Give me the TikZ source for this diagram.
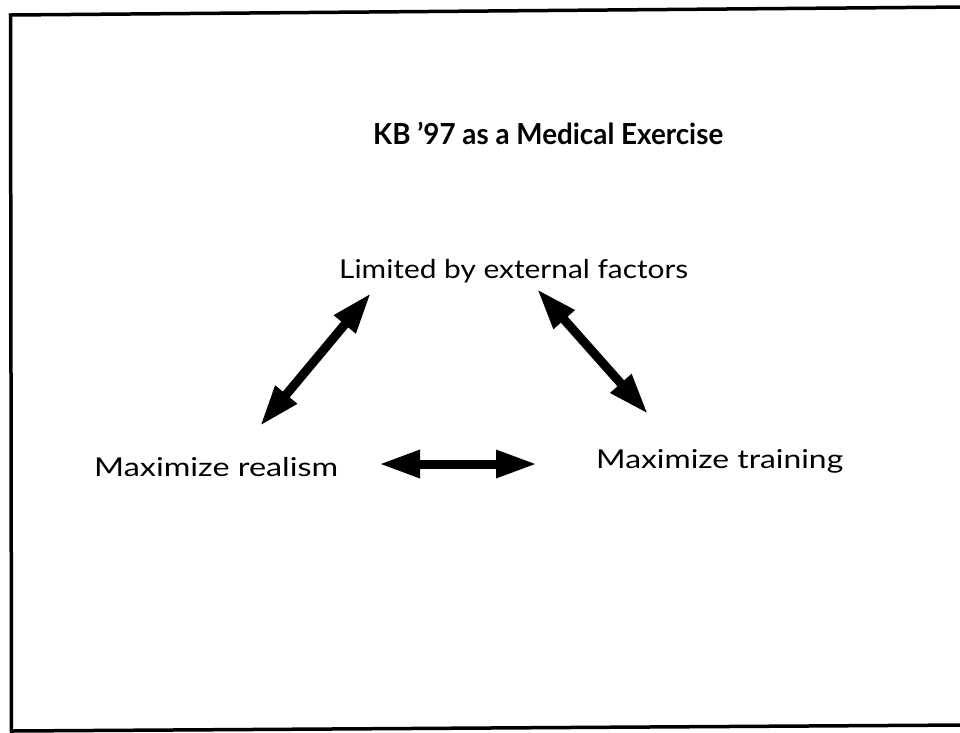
\documentclass[tikz,border=0pt]{standalone}
\usepackage{fontspec}
\setmainfont{Lato}
\usetikzlibrary{arrows.meta}
\tikzset{
  lbl/.style={inner sep=0pt, anchor=base west, font=\fontsize{26}{30}\selectfont},
  ttl/.style={inner sep=0pt, anchor=base west, font=\fontsize{29}{34}\selectfont\bfseries},
  dbl/.style={line width=9pt, {Triangle[length=41pt,width=26pt]}-{Triangle[length=41pt,width=26pt]}},
  frame/.style={line width=3.5pt, line cap=square, line join=miter}
}
\begin{document}
\begin{tikzpicture}[x=1pt,y=-1pt]
\useasboundingbox (0,0) rectangle (960,732);
% frame (slightly tilted, as scanned)
\coordinate (ftl) at (10.5,15);
\coordinate (ftr) at (965,7);
\coordinate (fbl) at (11.5,731);
\coordinate (fbr) at (965,725);
\draw[frame] (ftr) -- (ftl) -- (fbl) -- (fbr);
% texts
\node[ttl] (title) at (373,144) {\resizebox{350pt}{\height}{KB ’97 as a Medical Exercise}};
\node[lbl] (lim) at (339,278) {\resizebox{349pt}{\height}{Limited by external factors}};
\node[lbl] (real) at (94,476) {\resizebox{244pt}{\height}{Maximize realism}};
\node[lbl] (train) at (596,468) {\resizebox{247pt}{\height}{Maximize training}};
% arrows
\coordinate (a1) at (260,426); \coordinate (a2) at (371,293);
\coordinate (b1) at (537,289); \coordinate (b2) at (648,414);
\coordinate (c1) at (379,464); \coordinate (c2) at (537,464);
\draw[dbl] (a1) -- (a2);
\draw[dbl] (b1) -- (b2);
\draw[dbl] (c1) -- (c2);
\end{tikzpicture}
\end{document}
